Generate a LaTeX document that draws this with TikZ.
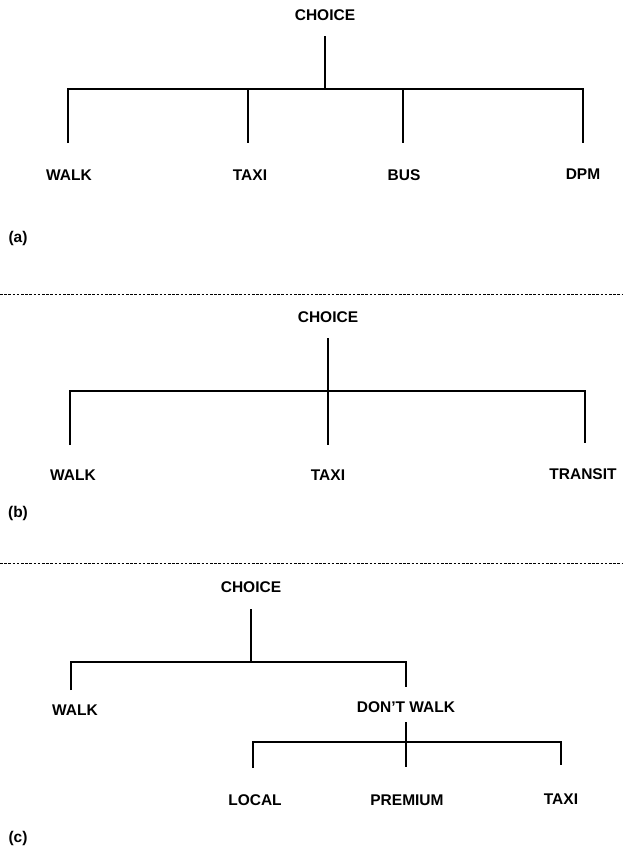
\documentclass[tikz,border=0pt]{standalone}
\usepackage{fontspec}
\setmainfont{Liberation Sans}
\begin{document}
\begin{tikzpicture}[x=1pt,y=-1pt,
  lbl/.style={font=\bfseries\fontsize{15.5}{16}\selectfont, inner sep=0pt},
  tag/.style={font=\bfseries\fontsize{15.5}{17}\selectfont, inner sep=0pt},
  edge/.style={line width=1.1pt},
  sepline/.style={line width=0.8pt, dash pattern=on 2.6pt off 1.6pt}]
\useasboundingbox (0,0) rectangle (622,847);

% ---------------- (a)
\node[lbl] (aC) at (325,15) {CHOICE};
\coordinate (aCt) at (325,36);
\coordinate (aCj) at (325,89);
\coordinate (aL) at (68,89);
\coordinate (aR) at (583,89);
\coordinate (aTj) at (248,89);
\coordinate (aBj) at (403,89);
\coordinate (aWe) at (68,143);
\coordinate (aTe) at (248,143);
\coordinate (aBe) at (403,143);
\coordinate (aDe) at (583,143);
\node[lbl] (aW) at (69,175) {WALK};
\node[lbl] (aT) at (250,175) {TAXI};
\node[lbl] (aB) at (404,175) {BUS};
\node[lbl] (aD) at (583,174) {DPM};
\node[tag] (atag) at (18,238) {(a)};
\draw[edge] (aCt) -- (aCj);
\draw[edge] (aWe) -- (aL) -- (aR) -- (aDe);
\draw[edge] (aTj) -- (aTe);
\draw[edge] (aBj) -- (aBe);

% separator
\coordinate (s1l) at (0,294);
\coordinate (s1r) at (622,294);
\draw[sepline] (s1l) -- (s1r);

% ---------------- (b)
\node[lbl] (bC) at (328,317) {CHOICE};
\coordinate (bCt) at (328,338);
\coordinate (bCe) at (328,445);
\coordinate (bL) at (70,391);
\coordinate (bR) at (585,391);
\coordinate (bWe) at (70,445);
\coordinate (bRe) at (585,443);
\node[lbl] (bW) at (73,475) {WALK};
\node[lbl] (bT) at (328,475) {TAXI};
\node[lbl] (bTr) at (583,474) {TRANSIT};
\node[tag] (btag) at (18,513) {(b)};
\draw[edge] (bCt) -- (bCe);
\draw[edge] (bWe) -- (bL) -- (bR) -- (bRe);

% separator
\coordinate (s2l) at (0,563);
\coordinate (s2r) at (622,563);
\draw[sepline] (s2l) -- (s2r);

% ---------------- (c)
\node[lbl] (cC) at (251,587) {CHOICE};
\coordinate (cCt) at (251,609);
\coordinate (cCj) at (251,662);
\coordinate (cL) at (71,662);
\coordinate (cR) at (406,662);
\coordinate (cWe) at (71,690);
\coordinate (cDe) at (406,687);
\node[lbl] (cW) at (75,710) {WALK};
\node[lbl] (cD) at (406,707) {DON'T WALK};
\coordinate (dT) at (406,722);
\coordinate (dPe) at (406,767);
\coordinate (dL) at (253,742);
\coordinate (dR) at (561,742);
\coordinate (dLe) at (253,768);
\coordinate (dRe) at (561,765);
\node[lbl] (cLo) at (255,800) {LOCAL};
\node[lbl] (cP) at (407,800) {PREMIUM};
\node[lbl] (cT) at (561,799) {TAXI};
\node[tag] (ctag) at (18,838) {(c)};
\draw[edge] (cCt) -- (cCj);
\draw[edge] (cWe) -- (cL) -- (cR) -- (cDe);
\draw[edge] (dT) -- (dPe);
\draw[edge] (dLe) -- (dL) -- (dR) -- (dRe);
\end{tikzpicture}
\end{document}
